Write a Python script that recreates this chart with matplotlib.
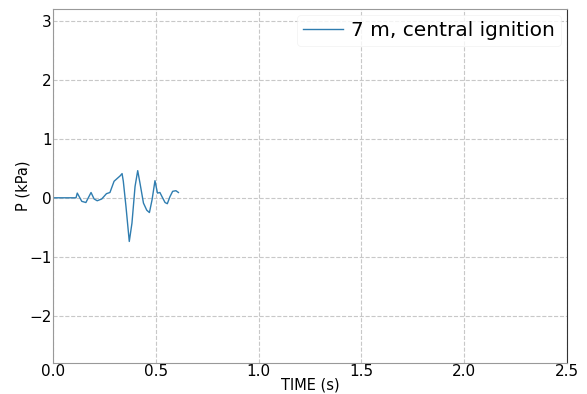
import numpy as np
import matplotlib
matplotlib.use("Agg")
import matplotlib.pyplot as plt

# pressure trace
time_s = [0.0, 0.10, 0.112, 0.118, 0.14, 0.16, 0.185, 0.20, 0.215, 0.237, 0.26, 0.277,
          0.297, 0.313, 0.326, 0.336, 0.342, 0.355, 0.371, 0.384, 0.399, 0.412,
          0.423, 0.44, 0.456, 0.469, 0.482, 0.496, 0.508, 0.52, 0.533, 0.545,
          0.556, 0.569, 0.582, 0.598, 0.61]
p_kpa = [0.0, 0.0, 0.0, 0.08, -0.06, -0.08, 0.09, -0.02, -0.05, -0.02, 0.07, 0.09,
         0.28, 0.33, 0.37, 0.41, 0.28, -0.15, -0.74, -0.43, 0.19, 0.46,
         0.25, -0.09, -0.21, -0.25, -0.03, 0.29, 0.08, 0.09, 0.0, -0.08,
         -0.10, 0.02, 0.11, 0.12, 0.09]

fig = plt.figure(figsize=(5.87, 3.94), dpi=100)
ax = fig.add_axes([53/587, 1 - 363/394, (567-53)/587, (363-9)/394])
ax.plot(time_s, p_kpa, color='#2f7db0', lw=1.0, label='7 m, central ignition')
ax.set_xlim(0, 2.5)
ax.set_ylim(-2.8, 3.2)
ax.set_xticks([0.0, 0.5, 1.0, 1.5, 2.0, 2.5])
ax.set_yticks([-2, -1, 0, 1, 2, 3])
ax.set_yticklabels(['\u22122', '\u22121', '0', '1', '2', '3'])
ax.grid(True, ls='--', color='#c8c8c8', lw=0.8)
ax.tick_params(length=0, labelsize=11, pad=1)
ax.set_xlabel('TIME (s)', fontsize=10.5, labelpad=-1)
ax.set_ylabel('P (kPa)', fontsize=10.5, labelpad=-1)
for s in ['left', 'bottom', 'top']:
    ax.spines[s].set_color('#999999')
ax.spines['right'].set_color('#333333')
leg = ax.legend(loc='upper right', fontsize=14.5, frameon=True, handlelength=2.0,
                borderaxespad=0.3, handletextpad=0.4, borderpad=0.3)
leg.get_frame().set_edgecolor('#eeeeee')
leg.get_frame().set_linewidth(0.5)
fig.savefig('out.png', dpi=100)
